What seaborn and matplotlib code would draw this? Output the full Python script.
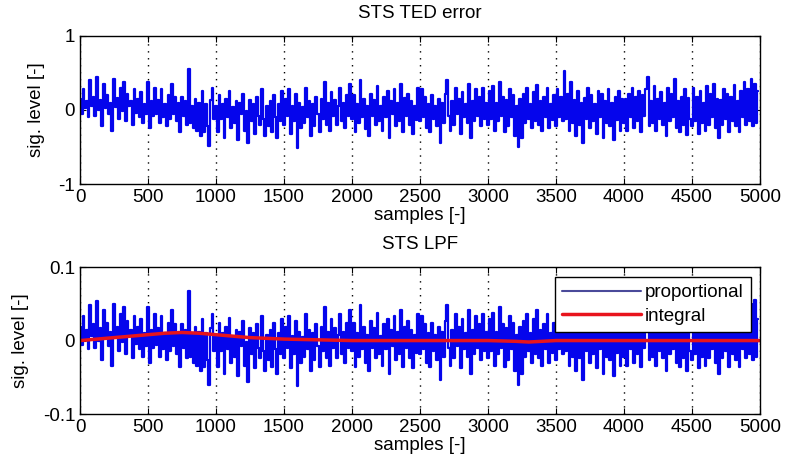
import numpy as np
import pandas as pd
import seaborn as sns
import matplotlib as mpl
from matplotlib import pyplot as plt

# TED error, hundredths, one value every 12.5 samples
ted_error_pct = [
    15, -5, 28, 2, 12, -10, 40, 5, 18, -8, 45, 0, 14, -22, 35, 3, 20, -6, 10, -28,
    42, 4, 16, -12, 30, -2, 38, -15, 22, 5, 12, -20, 28, -4, 15, -10, 24, -18, 8, -6,
    38, -25, 12, -8, 30, -5, 14, -18, 28, -10, 8, -22, 20, -12, 35, -6, 18, -15, 10, -30,
    18, -8, 12, -20, 55, -18, 6, -25, 15, -28, 10, -35, 25, -30, 8, -22, -48, 14, 30, -12,
    5, -30, 20, -12, 8, -38, 15, -10, 26, -25, 4, -18, 12, -40, 10, -6, 22, -28, -2, -45,
    14, -15, 8, -32, 18, -8, -20, 28, -12, -35, 6, -22, 12, -30, 20, -10, -38, 8, -15, 25,
    -20, 15, -8, 28, -32, 5, -15, 22, -52, 10, -25, 4, -18, 30, -10, 12, -35, 8, -22, 18,
    -6, -30, 15, -12, 38, -20, 10, -28, 24, -8, 14, -20, 6, 30, -15, 10, -25, 20, -8, 35,
    -12, 20, -30, 8, -18, 40, -10, 15, -26, 6, -35, 22, -8, 14, -20, 32, -15, 5, -28, 18,
    -10, 25, -38, 12, -6, 28, -22, 10, -15, 35, -30, 16, -8, 22, -20, 12, -32, 6, -14, 30,
    -15, 28, -10, 18, -25, 8, -30, 20, -12, 6, -22, 15, -45, 10, -18, 22, 40, -8, -28, 12,
    -20, 30, -6, 15, -32, 24, -10, 8, -18, 35, -38, 12, -15, 28, -8, 18, -22, 30, -12, 10,
    -20, 25, -12, 32, -28, 10, -15, 38, -8, 18, -30, 14, -22, 28, -10, 20, -35, 6, -50, 15,
    -38, 22, -18, 30, -12, 8, -25, 24, -15, 34, -20, 12, -28, 18, -10, 30, -25, 8, -14, 20,
    -22, 28, -10, 18, -15, 52, -12, 22, -28, 38, -18, 14, -35, 25, -20, 10, -45, 16, -12, 30,
    -25, 20, -15, 8, -32, 26, -10, 22, -38, 12, -18, 28, -22, 10, -40, 18, -14, 25, -28, 15,
    -18, 15, -28, 22, -10, 30, -25, 18, -15, 26, -30, 20, -8, 28, 45, -22, 12, -18, 32, -28,
    15, -12, 24, -20, 10, -35, 30, -15, 22, -10, 42, -25, 12, -30, 18, -20, 28, -34, 16, -12,
    -22, 30, -15, 18, -32, 25, -18, 10, -28, 32, -20, 22, -10, 35, -25, 15, -38, 14, -20, 28,
    -12, 22, -30, 18, -15, 34, -22, 12, -30, 26, -10, 38, -20, 28, -15, 42, -22, 35, -18, 25,
]

# LPF proportional path, thousandths, same sample spacing (bottom panel)
proportional_milli = [
    18, -6, 34, 2, 14, -12, 48, 6, 22, -10, 54, 0, 17, -26, 42, 4, 24, -7, 12, -34,
    50, 5, 19, -14, 36, -2, 46, -18, 26, 6, 14, -24, 34, -5, 18, -12, 29, -22, 10, -7,
    46, -30, 14, -10, 36, -6, 17, -22, 34, -12, 10, -26, 24, -14, 42, -7, 22, -18, 12, -36,
    22, -10, 14, -24, 68, -22, 7, -30, 18, -34, 12, -42, 30, -36, 10, -26, -60, 17, 36, -14,
    6, -36, 24, -14, 10, -46, 18, -12, 31, -30, 5, -22, 14, -48, 12, -7, 26, -34, -2, -56,
    17, -18, 10, -38, 22, -10, -24, 34, -14, -42, 7, -26, 14, -36, 24, -12, -46, 10, -18, 30,
    -24, 18, -10, 34, -38, 6, -18, 26, -62, 12, -30, 5, -22, 36, -12, 14, -42, 10, -26, 22,
    -7, -36, 18, -14, 46, -24, 12, -34, 29, -10, 17, -24, 7, 36, -18, 12, -30, 24, -10, 42,
    -14, 24, -36, 10, -22, 48, -12, 18, -31, 7, -42, 26, -10, 17, -24, 38, -18, 6, -34, 22,
    -12, 30, -46, 14, -7, 34, -26, 12, -18, 42, -36, 19, -10, 26, -24, 14, -38, 7, -17, 36,
    -18, 34, -12, 22, -30, 10, -36, 24, -14, 7, -26, 18, -54, 12, -22, 26, 48, -10, -34, 14,
    -24, 36, -7, 18, -38, 29, -12, 10, -22, 42, -46, 14, -18, 34, -10, 22, -26, 36, -14, 12,
    -24, 30, -14, 38, -34, 12, -18, 46, -10, 22, -36, 17, -26, 34, -12, 24, -42, 7, -60, 18,
    -46, 26, -22, 36, -14, 10, -30, 29, -18, 41, -24, 14, -34, 22, -12, 36, -30, 10, -17, 24,
    -26, 34, -12, 22, -18, 62, -14, 26, -34, 46, -22, 17, -42, 30, -24, 12, -54, 19, -14, 36,
    -30, 24, -18, 10, -38, 31, -12, 26, -46, 14, -22, 34, -26, 12, -48, 22, -17, 30, -34, 18,
    -22, 18, -34, 26, -12, 36, -30, 22, -18, 31, -36, 24, -10, 34, 54, -26, 14, -22, 38, -34,
    18, -14, 29, -24, 12, -42, 36, -18, 26, -12, 50, -30, 14, -36, 22, -24, 34, -41, 19, -14,
    -26, 36, -18, 22, -38, 30, -22, 12, -34, 38, -24, 26, -12, 42, -30, 18, -46, 17, -24, 34,
    -14, 26, -36, 22, -18, 41, -26, 14, -36, 31, -12, 46, -24, 34, -18, 50, -26, 55, -22, 30,
]

# LPF integral path (red curve)
integral_samples = [0, 250, 500, 625, 750, 875, 1000, 1125, 1250, 1500, 1750, 2000,
                    2500, 3000, 3200, 3300, 3400, 3500, 4000, 4500, 5000]
integral_level = [0.0, 0.004, 0.008, 0.010, 0.011, 0.010, 0.008, 0.006, 0.004, 0.002,
                  0.001, 0.0, 0.0, 0.0, -0.001, -0.002, -0.001, 0.0, 0.0, 0.0, 0.0]

x_ticks = [0, 500, 1000, 1500, 2000, 2500, 3000, 3500, 4000, 4500, 5000]

samples = np.arange(len(ted_error_pct)) * 12.5
ted_df = pd.DataFrame({"samples": samples, "level": np.array(ted_error_pct) / 100})
prop_df = pd.DataFrame({"samples": samples,
                        "level": np.array(proportional_milli) / 1000})
int_df = pd.DataFrame({"samples": integral_samples, "level": integral_level})

sns.set_style("ticks")
plt.rcParams["font.family"] = ["Liberation Sans", "DejaVu Sans"]
plt.rcParams.update({
    "font.size": 13.5,
    "xtick.direction": "in",
    "ytick.direction": "in",
    "xtick.top": True,
    "ytick.right": True,
    "xtick.major.size": 4,
    "ytick.major.size": 4,
    "axes.edgecolor": "black",
    "axes.linewidth": 1.0,
    "xtick.color": "black",
    "ytick.color": "black",
    "text.color": "black",
    "axes.labelcolor": "black",
})

fig = plt.figure(figsize=(7.86, 4.70), dpi=100)
ax1 = fig.add_axes([0.1018, 0.6085, 0.865, 0.315])
ax2 = fig.add_axes([0.1018, 0.119, 0.865, 0.3128])

blue = "#0505ec"

# steps keep the dense-signal look: one vertical stroke per sample
sns.lineplot(data=ted_df, x="samples", y="level", ax=ax1, color=blue,
             linewidth=1.6, estimator=None, drawstyle="steps-mid")
sns.lineplot(data=prop_df, x="samples", y="level", ax=ax2, color=blue,
             linewidth=1.6, estimator=None, drawstyle="steps-mid",
             label="proportional")
sns.lineplot(data=int_df, x="samples", y="level", ax=ax2, color="#e8141c",
             linewidth=2.5, estimator=None, label="integral")

for ax, lim, yt, title in [(ax1, 1, [-1, 0, 1], "STS TED error"),
                           (ax2, 0.1, [-0.1, 0, 0.1], "STS LPF")]:
    ax.set_xlim(0, 5000)
    ax.set_ylim(-lim, lim)
    ax.set_xticks(x_ticks)
    ax.set_yticks(yt)
    ax.set_yticklabels([str(v) for v in yt])
    ax.xaxis.grid(True, linestyle=(0, (1, 4)), color="black", linewidth=1.0)
    ax.yaxis.grid(False)
    ax.set_axisbelow(True)
    ax.set_xlabel("samples [-]", labelpad=1)
    ax.set_ylabel("sig. level [-]", labelpad=10)
    ax.set_title(title, fontsize=13.5, pad=13)
    for s in ax.spines.values():
        s.set_visible(True)
        s.set_zorder(5)

leg = ax2.legend(loc="upper right", bbox_to_anchor=(0.987, 0.935),
                 borderaxespad=0, handlelength=4.2, handletextpad=0.2,
                 borderpad=0.4, labelspacing=0.35, fancybox=False, framealpha=1,
                 edgecolor="black", fontsize=13.5)
leg.get_frame().set_linewidth(1.0)
leg.legend_handles[0].set_color("#4a4a9a")
leg.legend_handles[0].set_linewidth(1.5)

plt.savefig("out.png", dpi=100)
